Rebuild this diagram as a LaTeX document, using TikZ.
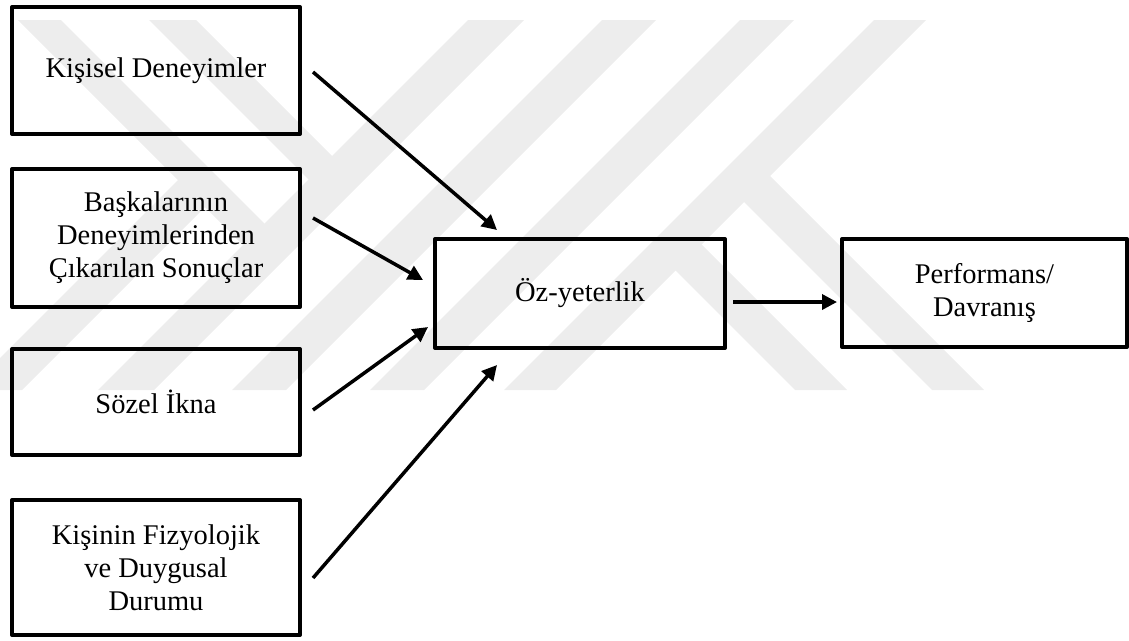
\documentclass[tikz,border=0pt]{standalone}
\usepackage{fontspec}
\setmainfont{Liberation Serif}
\usetikzlibrary{arrows.meta,calc}
\begin{document}
\begin{tikzpicture}[x=1pt,y=-1pt,
  box/.style={draw=black,line width=4pt,inner sep=0pt,align=center,
    line join=round,font=\fontsize{28.5}{33}\selectfont},
  link/.style={line width=3.5pt,-{Triangle[length=15pt,width=15pt]}},
  wmband/.style={fill=black!7}]
\useasboundingbox (0,0) rectangle (1129,640);

% faint striped emblem in the background
\begin{scope}
  \clip (0,20) rectangle (1129,390);
  % rising stripes
  \fill[wmband] (-32,390) -- (22,390) -- (216,196) -- (189,169) -- cycle;
  \fill[wmband] (468,20) -- (524,20) -- (154,390) -- (98,390) -- cycle;
  \fill[wmband] (602,20) -- (656,20) -- (286,390) -- (232,390) -- cycle;
  \fill[wmband] (740,20) -- (794,20) -- (424,390) -- (370,390) -- cycle;
  \fill[wmband] (874,20) -- (926,20) -- (556,390) -- (504,390) -- cycle;
  % falling stripes
  \fill[wmband] (18,20) -- (61,20) -- (278.5,237.5) -- (257,259) -- cycle;
  \fill[wmband] (149,20) -- (196,20) -- (346,170) -- (322.5,193.5) -- cycle;
  \fill[wmband] (757,163) -- (984,390) -- (932,390) -- (731,189) -- cycle;
  \fill[wmband] (688.5,231.5) -- (847,390) -- (795,390) -- (662.5,257.5) -- cycle;
\end{scope}

% boxes
\node[box,minimum width=288pt,minimum height=127pt] (k1) at (156,70.5) {Kişisel Deneyimler};
\node[box,minimum width=288pt,minimum height=138pt] (b2) at (156,238) {Başkalarının\\Deneyimlerinden\\Çıkarılan Sonuçlar};
\node[box,minimum width=288pt,minimum height=106pt] (s3) at (156,402) {Sözel İkna};
\node[box,minimum width=288pt,minimum height=135pt] (k4) at (156,567.5) {Kişinin Fizyolojik\\ve Duygusal\\Durumu};
\node[box,minimum width=290pt,minimum height=109pt] (oz) at (580,293.5) {Öz-yeterlik};
\node[box,minimum width=285pt,minimum height=108pt] (pd) at (984.5,293) {Performans/\\Davranış};

% arrows
\draw[link] ($(k1.east)+(11,1.5)$) -- ($(oz.north west)+(64,-7)$);
\draw[link] ($(b2.east)+(11,-20)$) -- ($(oz.west)+(-10,-13.5)$);
\draw[link] ($(s3.east)+(11,8)$) -- ($(oz.west)+(-5,33.5)$);
\draw[link] ($(k4.east)+(11,10.5)$) -- ($(oz.south west)+(64,15)$);
\draw[link] ($(oz.east)+(6,8.5)$) -- ($(pd.west)+(-3,9)$);
\end{tikzpicture}
\end{document}
